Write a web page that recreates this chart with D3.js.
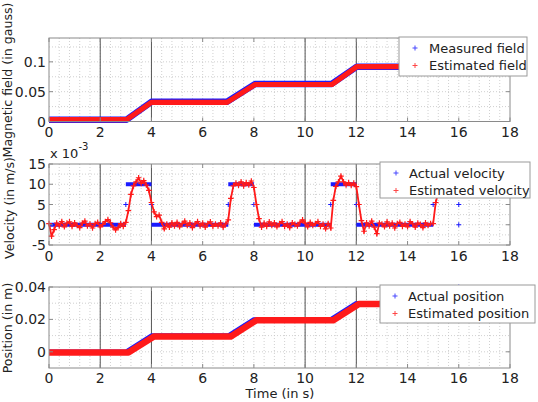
<!DOCTYPE html>
<html><head><meta charset="utf-8">
<script src="https://cdn.jsdelivr.net/npm/d3@7"></script>
<style>body{margin:0;background:#fff}svg{display:block;font-family:"DejaVu Sans",sans-serif}</style>
</head><body><svg id="c" width="538" height="402"></svg>
<script>
// ---------- data ----------
const timeTicks = [0, 2, 4, 6, 8, 10, 12, 14, 16, 18];
const markerTimes = [2, 4, 10, 12];

// Magnetic field (gauss)
const fieldTime      = [0, 3.03, 4.0, 6.95, 8.05, 11.04, 12.02, 15.2];
const measuredField  = [0.003, 0.003, 0.033, 0.033, 0.063, 0.063, 0.092, 0.092];
const estimatedField = [0.003, 0.003, 0.032, 0.032, 0.062, 0.062, 0.092, 0.092];
const fieldTicks = [0, 0.05, 0.1];
const fieldTickLabels = ["0", "0.05", "0.1"];

// Velocity (x 10^-3 m/s)
const actualVelStart = [0, 3, 4, 7, 8, 11, 12];
const actualVelEnd   = [3, 4, 7, 8, 11, 12, 15];
const actualVelValue = [0, 10, 0, 10, 0, 10, 0];
const actualVelPointT = [3, 4, 7, 8, 11, 12, 15, 16, 16];
const actualVelPointV = [5, 5, 5, 5, 5, 5, 5, 5, 0];
const estVelStep = 0.1;
const estimatedVelocity = [
  0.3, -2.8, -1.2, 0.4, -0.3, 0.8, -0.5, 0.4, 0.7, -0.4,
  0.5, -0.2, -0.7, 0.4, 0.9, -0.3, 0.2, -0.8, 0.3, 0.6,
  -0.5, 0.1, 0.8, 1.3, 0.5, -0.6, -1.3, -0.7, 0.3, -0.4,
  0.6, 3.5, 7.5, 9.6, 10.6, 11.6, 10.2, 10.9, 9.8, 8.5,
  5.5, 3.2, 2.0, 2.4, 0.6, -1.0, 0.2, -0.6, 0.5, -0.3,
  0.6, -0.5, 0.3, 0.9, -0.2, 0.5, -0.7, 0.2, 0.8, -0.3,
  0.4, -0.6, 0.3, 0.7, -0.4, 0.2, -0.3, 0.5, -0.6, 0.2,
  1.2, 6.5, 9.6, 10.3, 9.7, 10.6, 9.6, 10.4, 9.8, 10.8,
  9.2, 5.0, 1.5, -0.6, 0.4, -0.4, 0.7, -0.2, 0.5, -0.5,
  0.3, 0.8, -0.4, 0.2, -0.7, 0.5, 0.1, -0.3, 0.6, 1.2,
  0.4, -0.5, 0.6, -0.2, 0.3, 0.8, -0.4, 0.2, -1.0, 0.3,
  -0.8, 6.0, 9.5, 10.6, 12.0, 10.6, 9.8, 10.4, 9.7, 10.3,
  9.4, 5.0, 1.0, -1.6, 0.5, -0.3, 0.9, -0.6, -2.2, 0.4,
  0.2, -0.5, 0.7, -0.3, 0.4, -0.8, 0.3, 0.6, -0.4, 0.2,
  -0.5, 0.8, 0.2, -0.6, 0.4, 0.1, -0.7, 0.5, -0.2, 0.3,
  0.3, 5.5, 8.0
];
const velTicks = [-5, 0, 5, 10, 15];
const velTickLabels = ["-5", "0", "5", "10", "15"];

// Position (m)
const actualPosTime  = [0, 3, 4, 7, 8, 11, 12, 15];
const actualPos      = [0, 0, 0.01, 0.01, 0.02, 0.02, 0.03, 0.03];
const actualPosPointT = [16];
const actualPosPointV = [0.04];
const estPosTime     = [0, 3.1, 4.1, 7.1, 8.1, 11.1, 12.1, 15];
const estimatedPos   = [-0.0004, -0.0004, 0.0095, 0.0095, 0.0195, 0.0195, 0.0295, 0.0295];
const posTicks = [0, 0.02, 0.04];
const posTickLabels = ["0", "0.02", "0.04"];

// ---------- drawing ----------
const svg = d3.select("#c");
const BLUE = "#1a1aff", RED = "#ff1a1a";
const x = d3.scaleLinear().domain([0, 18]).range([49, 510]);

function panel(cfg) {
  const y = d3.scaleLinear().domain(cfg.domain).range([cfg.bottom, cfg.top]);
  const g = svg.append("g");
  // grid
  const xg = d3.range(0.4, 18, 0.4);
  g.selectAll(".vg").data(xg).join("line")
    .attr("x1", d => x(d)).attr("x2", d => x(d))
    .attr("y1", cfg.top).attr("y2", cfg.bottom)
    .attr("stroke", "#c4c4c4").attr("stroke-width", 0.8).attr("stroke-dasharray", "1,2");
  const yg = d3.range(cfg.domain[0] + cfg.gridStep, cfg.domain[1] - 1e-9, cfg.gridStep);
  g.selectAll(".hg").data(yg).join("line")
    .attr("x1", x(0)).attr("x2", x(18))
    .attr("y1", d => y(d)).attr("y2", d => y(d))
    .attr("stroke", "#c4c4c4").attr("stroke-width", 0.8).attr("stroke-dasharray", "1,2");
  // marker vertical lines
  g.selectAll(".mv").data(markerTimes).join("line")
    .attr("x1", d => x(d)).attr("x2", d => x(d))
    .attr("y1", cfg.top).attr("y2", cfg.bottom)
    .attr("stroke", "#555").attr("stroke-width", 1);
  cfg.data(g, y);
  // border
  g.append("rect").attr("x", x(0)).attr("y", cfg.top)
    .attr("width", x(18) - x(0)).attr("height", cfg.bottom - cfg.top)
    .attr("fill", "none").attr("stroke", "#8a8a8a").attr("stroke-width", 1);
  // ticks
  g.selectAll(".yt").data(cfg.ticks).join("path")
    .attr("d", d => `M${x(0)},${y(d)}h4M${x(18)},${y(d)}h-4`)
    .attr("stroke", "#8a8a8a");
  g.selectAll(".xt").data(timeTicks).join("path")
    .attr("d", d => `M${x(d)},${cfg.bottom}v-4M${x(d)},${cfg.top}v4`)
    .attr("stroke", "#8a8a8a");
  // tick labels
  g.selectAll(".ytl").data(cfg.ticks).join("text")
    .attr("x", 46).attr("y", d => y(d)).attr("dy", "0.36em")
    .attr("text-anchor", "end").attr("font-size", 14).attr("fill", "#222")
    .text((d, i) => cfg.tickLabels[i]);
  g.selectAll(".xtl").data(timeTicks).join("text")
    .attr("x", d => x(d)).attr("y", cfg.bottom + cfg.xlabOff)
    .attr("text-anchor", "middle").attr("font-size", 14).attr("fill", "#222")
    .text(d => d);
  // y label
  g.append("text").attr("transform", `translate(${cfg.labX},${cfg.labY}) rotate(-90)`)
    .attr("text-anchor", "middle").attr("font-size", 12.6).attr("fill", "#222")
    .text(cfg.label);
  // legend
  const L = cfg.legend;
  g.append("rect").attr("x", L.x).attr("y", L.y).attr("width", L.w).attr("height", L.h)
    .attr("fill", "#fff").attr("stroke", "#9a9a9a");
  L.items.forEach((it, i) => {
    const cy = L.y + 11 + i * 17.5;
    g.append("path").attr("d", `M${L.mx - 2.5},${cy}h5M${L.mx},${cy - 2.5}v5`)
      .attr("stroke", it.c).attr("stroke-width", 1).attr("opacity", 0.8);
    g.append("text").attr("x", L.tx).attr("y", cy).attr("dy", "0.36em")
      .attr("font-size", 13).attr("fill", "#222").text(it.t);
  });
  return y;
}

function plus(g, pts, color, s, w) {
  g.append("path")
    .attr("d", pts.map(p => `M${p[0] - s},${p[1]}h${2 * s}M${p[0]},${p[1] - s}v${2 * s}`).join(""))
    .attr("stroke", color).attr("stroke-width", w).attr("fill", "none");
}

// Panel 1: magnetic field
panel({
  top: 38, bottom: 121.5, domain: [0, 0.14], gridStep: 0.025,
  ticks: fieldTicks, tickLabels: fieldTickLabels, xlabOff: 15.5,
  label: "Magnetic field (in gauss)", labX: 12, labY: 80,
  legend: { x: 399, y: 37, w: 128, h: 39, mx: 415, tx: 429,
    items: [{ c: BLUE, t: "Measured field" }, { c: RED, t: "Estimated field" }] },
  data: (g, y) => {
    const line = d3.line().x(d => x(d[0])).y(d => y(d[1]));
    g.append("path").attr("d", line(fieldTime.map((t, i) => [t, measuredField[i]])))
      .attr("fill", "none").attr("stroke", BLUE).attr("stroke-width", 6.5).attr("stroke-linejoin", "round");
    g.append("path").attr("d", line(fieldTime.map((t, i) => [t, estimatedField[i]])))
      .attr("fill", "none").attr("stroke", RED).attr("stroke-width", 5.2).attr("stroke-linejoin", "round");
  }
});

// Panel 2: velocity
panel({
  top: 164, bottom: 245, domain: [-5, 15], gridStep: 2.5,
  ticks: velTicks, tickLabels: velTickLabels, xlabOff: 15.5,
  label: "Velocity (in m/s)", labX: 14, labY: 208,
  legend: { x: 380, y: 162, w: 150, h: 36, mx: 396, tx: 409,
    items: [{ c: BLUE, t: "Actual velocity" }, { c: RED, t: "Estimated velocity" }] },
  data: (g, y) => {
    g.selectAll(".av").data(actualVelStart).join("line")
      .attr("x1", d => x(d)).attr("x2", (d, i) => x(actualVelEnd[i]))
      .attr("y1", (d, i) => y(actualVelValue[i])).attr("y2", (d, i) => y(actualVelValue[i]))
      .attr("stroke", BLUE).attr("stroke-width", 4);
    plus(g, actualVelPointT.map((t, i) => [x(t), y(actualVelPointV[i])]), BLUE, 2.5, 1);
    const pts = estimatedVelocity.map((v, i) => [x(i * estVelStep), y(v)]);
    g.append("path").attr("d", d3.line()(pts)).attr("fill", "none")
      .attr("stroke", RED).attr("stroke-width", 1.8);
    plus(g, pts, RED, 2.8, 1.2);
  }
});
svg.append("text").attr("x", 50).attr("y", 158).attr("font-size", 13).attr("fill", "#222")
  .text("x 10").append("tspan").attr("dy", -8).attr("font-size", 10).text("-3");

// Panel 3: position
panel({
  top: 287, bottom: 368, domain: [-0.01, 0.04], gridStep: 0.01,
  ticks: posTicks, tickLabels: posTickLabels, xlabOff: 15,
  label: "Position (in m)", labX: 12, labY: 328,
  legend: { x: 380, y: 285, w: 155, h: 38, mx: 395, tx: 408,
    items: [{ c: BLUE, t: "Actual position" }, { c: RED, t: "Estimated position" }] },
  data: (g, y) => {
    const line = d3.line().x(d => x(d[0])).y(d => y(d[1]));
    g.append("path").attr("d", line(actualPosTime.map((t, i) => [t, actualPos[i]])))
      .attr("fill", "none").attr("stroke", BLUE).attr("stroke-width", 4.5).attr("stroke-linejoin", "round");
    g.append("path").attr("d", line(estPosTime.map((t, i) => [t, estimatedPos[i]])))
      .attr("fill", "none").attr("stroke", RED).attr("stroke-width", 6.5).attr("stroke-linejoin", "round");
    plus(g, actualPosPointT.map((t, i) => [x(t), y(actualPosPointV[i])]), BLUE, 2.5, 1);
  }
});

svg.append("text").attr("x", 280).attr("y", 398).attr("text-anchor", "middle")
  .attr("font-size", 13).attr("fill", "#222").text("Time (in s)");
</script></body></html>
